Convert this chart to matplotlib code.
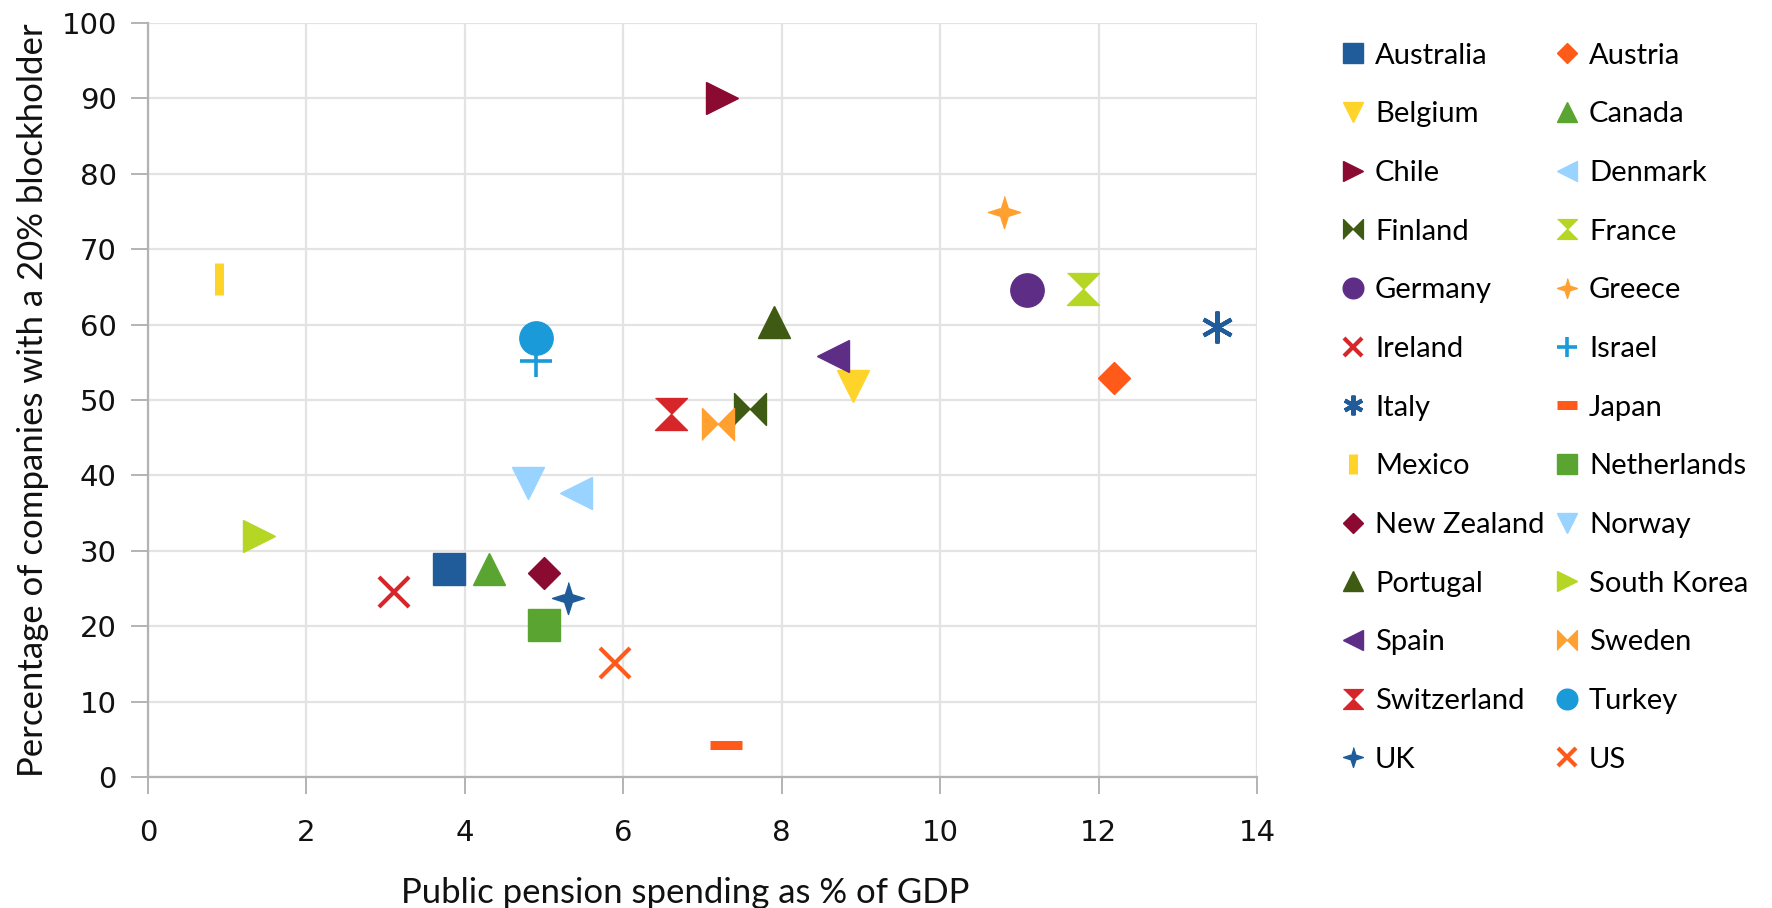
import numpy as np
import matplotlib
matplotlib.use('Agg')
import matplotlib.pyplot as plt

# datos
countries = ['Australia', 'Austria', 'Belgium', 'Canada', 'Chile', 'Denmark',
             'Finland', 'France', 'Germany', 'Greece', 'Ireland', 'Israel',
             'Italy', 'Japan', 'Mexico', 'Netherlands', 'New Zealand', 'Norway',
             'Portugal', 'South Korea', 'Spain', 'Sweden', 'Switzerland',
             'Turkey', 'UK', 'US']
pension = [3.8, 12.2, 8.9, 4.3, 7.25, 5.4,
           7.6, 11.8, 11.1, 10.8, 3.1, 4.9,
           13.5, 7.3, 0.9, 5.0, 5.0, 4.8,
           7.9, 1.4, 8.65, 7.2, 6.6,
           4.9, 5.3, 5.9]
blockholder = [27.6, 52.9, 51.9, 27.6, 90.0, 37.6,
               48.8, 64.7, 64.6, 75.0, 24.6, 55.2,
               59.7, 4.2, 66.0, 20.1, 27.1, 39.0,
               60.3, 31.9, 55.8, 46.8, 48.1,
               58.2, 23.7, 15.1]

# paleta (tipo LibreOffice) que se repite cada 12 series
palette = ['#1f5c99', '#ff5a1a', '#ffd42a', '#5aa532', '#8b0a32', '#99d3ff',
           '#3f5a12', '#b5d624', '#5e2e87', '#ffa030', '#d7262a', '#1a9ad8']

bowtie = [(-1, -1), (-1, 1), (0, 0), (1, 1), (1, -1), (0, 0)]
hourglass = [(-1, 1), (1, 1), (0, 0), (1, -1), (-1, -1), (0, 0)]
star4 = [(0, 1), (0.24, 0.24), (1, 0), (0.24, -0.24), (0, -1), (-0.24, -0.24), (-1, 0), (-0.24, 0.24)]

# (marcador, tamano, grosor)
markers = [('s', 23, 1), ('D', 16, 1), ('v', 23, 1), ('^', 23, 1),
           ('>', 23, 1), ('<', 23, 1), (bowtie, 23, 1), (hourglass, 23, 1),
           ('o', 24, 1), (star4, 23, 1), ('x', 21, 3), ('+', 23, 2.6),
           ((6, 2, 0), 23, 3), ('_', 23, 6.5), ('|', 23, 6.5)]

fig = plt.figure(figsize=(17.72, 9.08), dpi=100)
ax = fig.add_axes([148 / 1772, 1 - 777 / 908, (1257 - 148) / 1772, (777 - 23) / 908])

handles = []
for i, name in enumerate(countries):
    mk, ms, mew = markers[i % 15]
    c = palette[i % 12]
    h, = ax.plot([pension[i]], [blockholder[i]], linestyle='none', marker=mk,
                 markersize=ms, markerfacecolor=c, markeredgecolor=c,
                 markeredgewidth=mew, label=name, zorder=3)
    handles.append(h)

ax.set_xlim(0, 14)
ax.set_ylim(0, 100)
ax.set_xticks(np.arange(0, 15, 2))
ax.set_yticks(np.arange(0, 101, 10))
ax.grid(True, color='#e3e3e3', linewidth=1.6, zorder=0)
ax.set_axisbelow(True)
for s in ['top', 'right']:
    ax.spines[s].set_visible(False)
for s in ['left', 'bottom']:
    ax.spines[s].set_color('#b3b3b3')
    ax.spines[s].set_linewidth(1.6)
ax.tick_params(direction='out', length=12.5, width=1.4, color='#b3b3b3',
               labelsize=21, labelcolor='#111111')
ax.tick_params(axis='x', pad=18)
ax.tick_params(axis='y', pad=10)

ax.set_xlabel('Public pension spending as % of GDP', fontsize=25, family='Lato',
              color='#111111')
ax.set_ylabel('Percentage of companies with a 20% blockholder', fontsize=25, family='Lato',
              color='#111111')
ax.xaxis.set_label_coords(0.484, -0.132)
ax.yaxis.set_label_coords(-0.0896, 0.5)

orden = handles[0::2] + handles[1::2]
leg = fig.legend(handles=orden, labels=[h.get_label() for h in orden], ncol=2,
                 loc='upper left', bbox_to_anchor=(1343 / 1772, 1 - 42.5 / 908),
                 frameon=False, markerscale=0.62, handlelength=0.7, handletextpad=0.4,
                 columnspacing=0.42, labelspacing=1.12, borderpad=0, borderaxespad=0,
                 prop={'family': 'Lato', 'size': 21})

fig.savefig('out.png', dpi=100)
